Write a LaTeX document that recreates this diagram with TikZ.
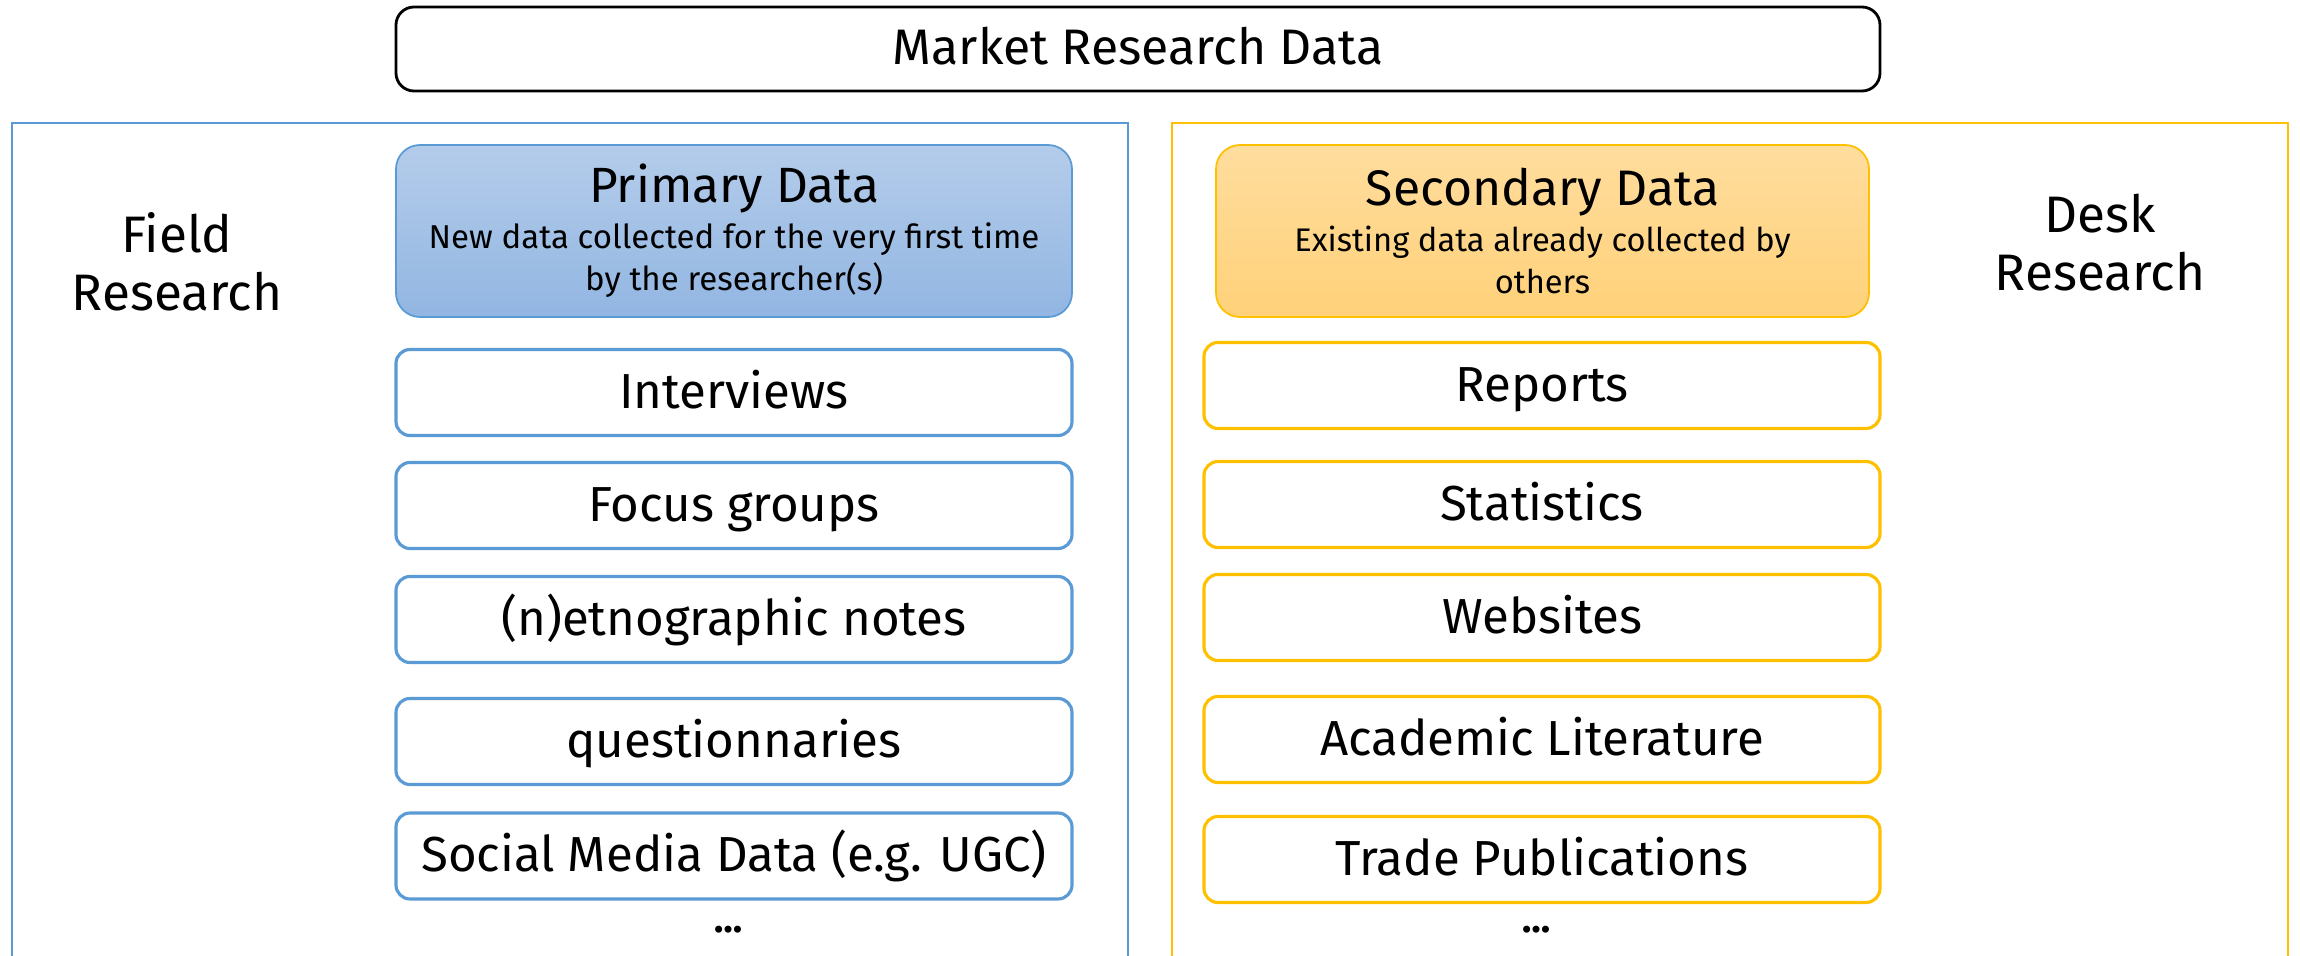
\documentclass[tikz,border=0pt]{standalone}
\usepackage{fontspec}
\setmainfont{Fira Sans}
\usetikzlibrary{positioning,calc}
\definecolor{fieldblue}{HTML}{5B9BD5}
\definecolor{deskgold}{HTML}{FFC000}
\definecolor{bluetop}{HTML}{B4CCEA}
\definecolor{bluebot}{HTML}{92B6E2}
\definecolor{goldtop}{HTML}{FFDD9E}
\definecolor{goldbot}{HTML}{FFD179}
\tikzset{
  srcbox/.style={draw, fill=white, rounded corners=0.14cm, line width=0.9pt,
    minimum width=6.76cm, minimum height=0.86cm, inner sep=0pt,
    text height=1.1em, text depth=0.2em,
    font=\fontsize{14}{16}\selectfont},
  databox/.style={draw, rounded corners=0.24cm, line width=0.5pt,
    minimum height=1.72cm, inner sep=0pt, align=center},
  sidelabel/.style={align=center, font=\fontsize{14.6}{16.5}\selectfont},
  moredots/.style={font=\bfseries\fontsize{11}{13}\selectfont}
}
\begin{document}
\begin{tikzpicture}
\useasboundingbox (0,0) rectangle (23,-9.56);
% top title
\node[draw, line width=0.8pt, rounded corners=0.18cm, minimum width=14.84cm, minimum height=0.84cm,
  inner sep=0pt, text height=1.1em, text depth=0.2em,
  font=\fontsize{14.2}{16}\selectfont, name=market] at (11.38,-0.49) {Market Research Data};
% open frames
\draw[fieldblue, line width=0.7pt] (0.12,-9.6) -- (0.12,-1.23) -- (11.28,-1.23) -- (11.28,-9.6);
\draw[deskgold, line width=0.7pt] (11.72,-9.6) -- (11.72,-1.23) -- (22.88,-1.23) -- (22.88,-9.6);
\node[sidelabel, name=field] at (1.77,-2.62) {Field\\Research};
\node[sidelabel, name=desk] at (21.00,-2.43) {Desk\\Research};
% primary side
\node[databox, draw=fieldblue, top color=bluetop, bottom color=bluebot, minimum width=6.76cm, name=primary] at (7.34,-2.31)
  {{\fontsize{14.1}{17}\selectfont Primary Data}\\[1pt]{\fontsize{9.4}{11}\selectfont New data collected for the very first time}\\{\fontsize{9.4}{11}\selectfont by the researcher(s)}};
\node[srcbox, draw=fieldblue, name=interviews] at (7.34,-3.925) {Interviews};
\node[srcbox, draw=fieldblue, name=focus] at (7.34,-5.055) {Focus groups};
\node[srcbox, draw=fieldblue, name=ethno] at (7.34,-6.195) {(n)etnographic notes};
\node[srcbox, draw=fieldblue, name=quest] at (7.34,-7.415) {questionnaries};
\node[srcbox, draw=fieldblue, name=social] at (7.34,-8.56) {Social Media Data (e.g. UGC)};
\node[moredots, name=fieldmore] at (7.29,-9.30) {…};
% secondary side
\node[databox, draw=deskgold, top color=goldtop, bottom color=goldbot, minimum width=6.53cm, name=secondary] at (15.425,-2.31)
  {{\fontsize{14.2}{17}\selectfont Secondary Data}\\[1pt]{\fontsize{9.3}{11}\selectfont Existing data already collected by}\\{\fontsize{9.3}{11}\selectfont others}};
\node[srcbox, draw=deskgold, name=reports] at (15.42,-3.855) {Reports};
\node[srcbox, draw=deskgold, name=stats] at (15.42,-5.045) {Statistics};
\node[srcbox, draw=deskgold, name=websites] at (15.42,-6.175) {Websites};
\node[srcbox, draw=deskgold, name=academic] at (15.42,-7.395) {Academic Literature};
\node[srcbox, draw=deskgold, name=trade] at (15.42,-8.595) {Trade Publications};
\node[moredots, name=deskmore] at (15.37,-9.30) {…};
\end{tikzpicture}
\end{document}
